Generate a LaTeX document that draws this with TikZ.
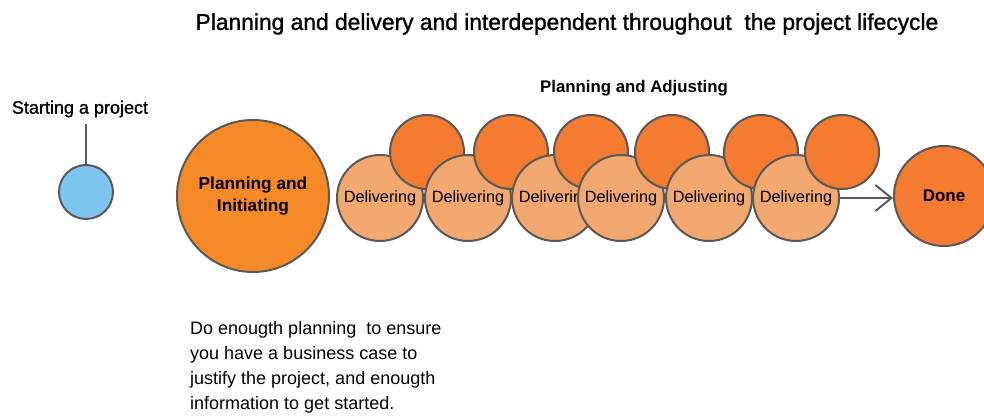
\documentclass[tikz,border=0pt]{standalone}
\usepackage{fontspec}
\setmainfont{Liberation Sans}
\newfontfamily\medfont[FakeBold=1.2]{Liberation Sans}
\usetikzlibrary{arrows.meta}
\definecolor{cblue}{HTML}{7EC8F0}
\definecolor{cplan}{HTML}{F58A26}
\definecolor{cdark}{HTML}{F47B30}
\definecolor{clight}{HTML}{F2A86E}
\definecolor{cline}{HTML}{595959}
\tikzset{
  bubble/.style={circle, draw=cline, line width=2pt, inner sep=0pt, align=center},
  light/.style={bubble, fill=clight, minimum size=86pt, font=\fontsize{16.3}{18}\selectfont},
  dark/.style={bubble, fill=cdark, minimum size=74pt},
  conn/.style={draw=cline, line width=2pt},
}
\begin{document}
\begin{tikzpicture}[x=1pt,y=-1pt]
\useasboundingbox (0,0) rectangle (984,417);
\clip (0,0) rectangle (984,417);
\node[font=\medfont\fontsize{22.8}{26}\selectfont, anchor=center] (title) at (567,24) {Planning and delivery and interdependent throughout~ the project lifecycle};
\node[font=\bfseries\fontsize{16.8}{20}\selectfont] (adj) at (634,88) {Planning and Adjusting};
\node[font=\medfont\fontsize{18}{20}\selectfont] (start) at (80,109) {Starting a project};
\node[bubble, fill=cblue, minimum size=54pt] (blue) at (86,192) {};
\coordinate (lt) at (86,124);
\draw[conn] (lt) -- (blue.north);
\node[bubble, fill=cplan, minimum size=152pt, font=\bfseries\fontsize{17.3}{22}\selectfont] (plan) at (253,196) {Planning and\\Initiating};
\node[light] (l1) at (380,198) {Delivering};
\node[dark]  (d1) at (427,152) {};
\node[light] (l2) at (468,198) {Delivering};
\node[dark]  (d2) at (511,152) {};
\node[light] (l3) at (555,198) {Delivering};
\node[dark]  (d3) at (591,152) {};
\node[light] (l4) at (621,198) {Delivering};
\node[dark]  (d4) at (672,152) {};
\node[light] (l5) at (709,198) {Delivering};
\node[dark]  (d5) at (761,152) {};
\node[light] (l6) at (796,198) {Delivering};
\node[dark]  (d6) at (842,152) {};
\node[bubble, fill=cdark, minimum size=100pt, font=\bfseries\fontsize{17}{20}\selectfont] (done) at (944,196) {Done};
\draw[conn, -{Straight Barb[length=16pt,width=26pt,line width=2pt]}] (l6.east) -- (l6.east -| done.west);
\node[anchor=north west, align=left, font=\fontsize{18}{25}\selectfont, inner sep=0pt] (desc) at (190,321) {Do enougth planning~ to ensure\\you have a business case to\\justify the project, and enougth\\information to get started.};
\end{tikzpicture}
\end{document}
